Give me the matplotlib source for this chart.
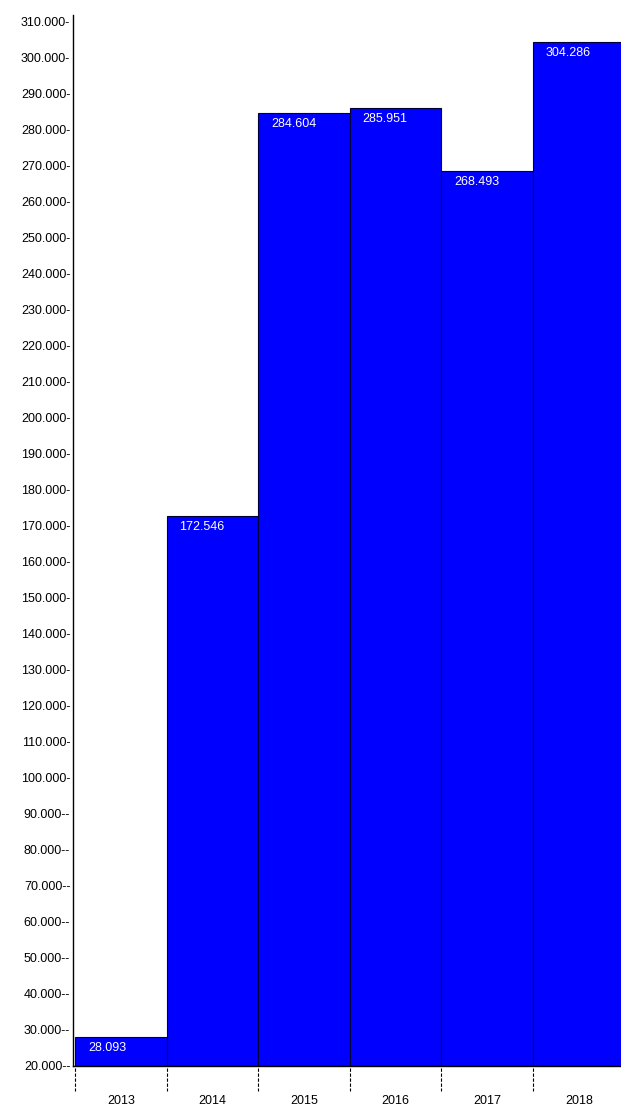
import matplotlib.pyplot as plt
import numpy as np

years = ['2013', '2014', '2015', '2016', '2017', '2018']
values = [28.093, 172.546, 284.604, 285.951, 268.493, 304.286]
y_ticks = list(range(20, 320, 10))

plt.rcParams['font.family'] = ['Liberation Sans', 'DejaVu Sans']

fig = plt.figure(figsize=(6.21, 11.08), dpi=100)
ax = fig.add_axes([73 / 621, 42 / 1108, 548 / 621, 1051 / 1108])

x = np.arange(len(years))
base = 20
ax.bar(x, [v - base for v in values], bottom=base, width=1.0, align='edge',
       color='#0000ff', edgecolor='#000033', linewidth=0.8)

# value labels inside the bars, top-left
for xi, v in zip(x, values):
    ax.text(xi + 0.14, v - 3.05, f'{v:.3f}', color='white', fontsize=9,
            ha='left', va='center')

ax.set_xlim(-0.022, 5.96)
ax.set_ylim(20, 311.7)

# y ticks with trailing dashes like the original
ax.set_yticks(y_ticks)
ax.set_yticklabels([f'{t:.3f}' + ('--' if t < 100 else '-') for t in y_ticks])
ax.tick_params(axis='y', length=0, pad=2, labelsize=9)

# year labels centred under bars
ax.set_xticks(x + 0.5)
ax.set_xticklabels(years)
ax.tick_params(axis='x', length=0, pad=21, labelsize=9)

# dashed tick marks at bar edges
trans = ax.get_xaxis_transform()
ax.vlines(x, -0.002, -0.024, transform=trans, colors='black',
          linestyles=(0, (3, 1.5)), linewidth=0.8, clip_on=False)

for s in ['top', 'right']:
    ax.spines[s].set_visible(False)
ax.spines['left'].set_linewidth(1)
ax.spines['bottom'].set_linewidth(1)

fig.savefig('out.png', dpi=100)
